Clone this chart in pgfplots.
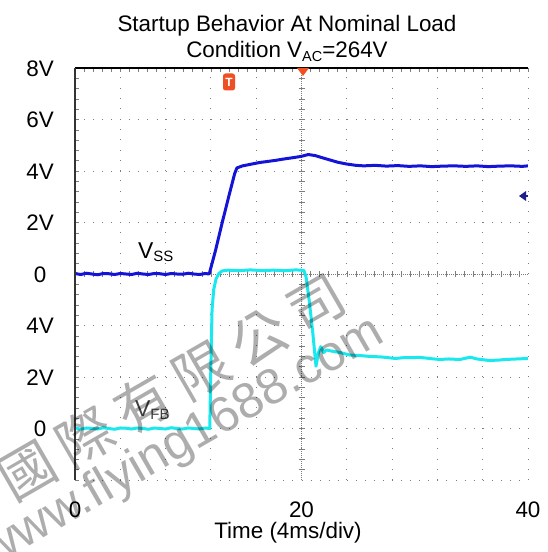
\documentclass[border=0pt]{standalone}
\usepackage{pgfplots}
\pgfplotsset{compat=1.18}
\usepackage{pgfplotstable}
\usepackage{fontspec}
\setmainfont{Liberation Sans}
\newfontfamily\cjk{Noto Sans CJK TC}
\definecolor{cvss}{RGB}{20,20,215}
\definecolor{cvfb}{RGB}{25,232,238}
\definecolor{trig}{RGB}{238,80,35}
\definecolor{navy}{RGB}{30,30,140}
\definecolor{gridc}{RGB}{125,125,125}

\pgfplotstableread{
t v
0 0.02
0.5 -0.02
1 0.03
1.5 0.0
2 -0.03
2.5 0.02
3 0.01
3.5 -0.02
4 0.02
4.5 0.0
5 -0.02
5.5 0.03
6 0.0
6.5 -0.02
7 0.02
7.5 0.01
8 -0.02
8.5 0.02
9 0.0
9.5 -0.01
10 0.03
10.5 0.0
11 -0.02
11.5 0.02
11.85 0.0
12.4 0.9
13 2.0
13.6 3.05
14.1 3.9
14.3 4.12
14.8 4.2
15.5 4.26
16.3 4.33
17 4.37
17.8 4.42
18.5 4.47
19.3 4.52
20 4.57
20.6 4.64
21.2 4.6
21.8 4.52
22.5 4.43
23.2 4.34
24 4.27
24.8 4.22
25.5 4.2
26.5 4.22
27.5 4.19
28.5 4.21
29.5 4.18
30.5 4.2
31.5 4.17
32.5 4.19
33.5 4.2
34.5 4.18
35.5 4.2
36.5 4.17
37.5 4.19
38.5 4.2
39.5 4.18
40 4.2
}\datass

\pgfplotstableread{
t v
0 0.03
0.5 -0.03
1 0.02
1.5 0.0
2 -0.02
2.5 0.03
3 0.0
3.5 -0.03
4 0.02
4.5 0.01
5 -0.02
5.5 0.02
6 0.0
6.5 -0.03
7 0.02
7.5 0.0
8 -0.02
8.5 0.03
9 0.0
9.5 -0.02
10 0.02
10.5 0.0
11 -0.02
11.5 0.02
11.9 0.0
12.0 2.5
12.1 4.6
12.25 5.4
12.45 5.8
12.7 6.02
13.0 6.12
13.5 6.15
14.5 6.13
15.5 6.16
16.5 6.13
17.5 6.15
18.5 6.13
19.5 6.16
20.2 6.14
20.4 5.9
20.7 4.9
21.0 3.7
21.28 2.42
21.5 2.95
21.7 3.18
21.95 2.95
22.2 3.05
22.5 3.02
23.0 2.98
23.4 2.95
24.3 2.85
25 2.84
26 2.8
27 2.78
28.3 2.72
29 2.75
30.5 2.76
31.5 2.71
32.2 2.68
33 2.7
34 2.68
34.9 2.77
35.5 2.7
36.6 2.64
37.5 2.66
38 2.68
39 2.7
40 2.72
}\datafb

\begin{document}
\begin{tikzpicture}
% centre crosshair (behind the axis)
\draw[gridc, line width=0.6bp, dash pattern=on 1bp off 1bp] (226.5bp,0) -- (226.5bp,412bp);
\draw[gridc, line width=0.6bp, dash pattern=on 1bp off 1bp] (0,206bp) -- (453bp,206bp);
\foreach \i in {1,...,39} \draw[gridc, line width=0.6bp] ({223.5bp},{\i*10.3bp}) -- ({229.5bp},{\i*10.3bp});
\foreach \i in {1,...,49} \draw[gridc, line width=0.6bp] ({\i*9.06bp},{203bp}) -- ({\i*9.06bp},{209bp});
\begin{axis}[
 name=ax, scale only axis, width=453bp, height=412bp,
 at={(0,0)}, anchor=south west,
 xmin=0, xmax=40, ymin=-4, ymax=4,
 axis line style={draw=none},
 xtick={0,4,...,40}, xticklabels={0,,,,,20,,,,,40},
 ytick={-4,-3,...,4}, yticklabels={{},0,2V,4V,0,2V,4V,6V,8V},
 grid=major,
 x grid style={gridc, line width=0.8bp, dash pattern=on 0.8bp off 9.5bp},
 y grid style={gridc, line width=0.8bp, dash pattern=on 0.8bp off 8.26bp},
 minor x tick num=4, minor y tick num=4,
 tick align=inside, xtick pos=right, ytick pos=left,
 xticklabel pos=left, yticklabel pos=left,
 major tick length=4bp, minor tick length=4bp,
 tick style={gridc, line width=0.6bp},
 ticklabel style={font=\fontsize{22.5}{22.5}\selectfont},
 xticklabel style={anchor=base, yshift=-37bp},
 yticklabel style={anchor=base, xshift=-35bp, yshift=-8bp},
 /pgf/number format/assume math mode=true,
]
\addplot[cvfb, line width=3bp, line join=round] table[x=t, y expr=\thisrow{v}/2-3]{\datafb};
\addplot[cvss, line width=3bp, line join=round] table[x=t, y expr=\thisrow{v}/2]{\datass};
\end{axis}
% frame: solid top and left
\draw[black, line width=1.3bp] (0,412bp) -- (453bp,412bp);
\draw[black!80, line width=1.5bp] (0,0) -- (0,412bp);
% title
\node[anchor=base, font=\fontsize{22.5}{22.5}\selectfont] at (212bp,448bp) {Startup Behavior At Nominal Load};
\node[anchor=base, font=\fontsize{22.5}{22.5}\selectfont] at (212bp,422bp) {Condition V\raisebox{-4bp}{\fontsize{14.5}{14.5}\selectfont AC}=264V};
% x label
\node[anchor=base, font=\fontsize{22.5}{22.5}\selectfont] at (213bp,-58bp) {Time (4ms/div)};
% trace labels
\node[anchor=base west, inner sep=0pt, font=\fontsize{23}{23}\selectfont] at (63bp,221bp) {V\raisebox{-3bp}{\fontsize{15}{15}\selectfont SS}};
\node[anchor=base west, inner sep=0pt, text=black!75, font=\fontsize{23}{23}\selectfont] at (60bp,63bp) {V\raisebox{-3bp}{\fontsize{15}{15}\selectfont FB}};
% scope markers
\node[fill=trig, text=white, rounded corners=2.5bp, inner sep=1bp, minimum width=12bp, minimum height=17bp, font=\bfseries\fontsize{12}{12}\selectfont] at (154bp,398bp) {T};
\fill[trig] (222bp,412bp) -- (234bp,412bp) -- (228bp,404bp) -- cycle;
\fill[navy] (444bp,284bp) -- (451bp,289bp) -- (451bp,279bp) -- cycle;
\draw[navy, line width=2bp] (449bp,284bp) -- (453bp,284bp);
% watermark
\node[rotate=30, opacity=0.32, font=\cjk\fontsize{56}{56}\selectfont] at (97bp,93bp) {國\hspace{11bp}際\hspace{11bp}有\hspace{11bp}限\hspace{11bp}公\hspace{11bp}司};
\node[rotate=30, opacity=0.32, font=\fontsize{50}{50}\selectfont] at (108bp,37bp) {www.flying1688.com};
\pgfresetboundingbox
\useasboundingbox (-75bp,-72bp) rectangle (473bp,480bp);
\end{tikzpicture}
\end{document}
